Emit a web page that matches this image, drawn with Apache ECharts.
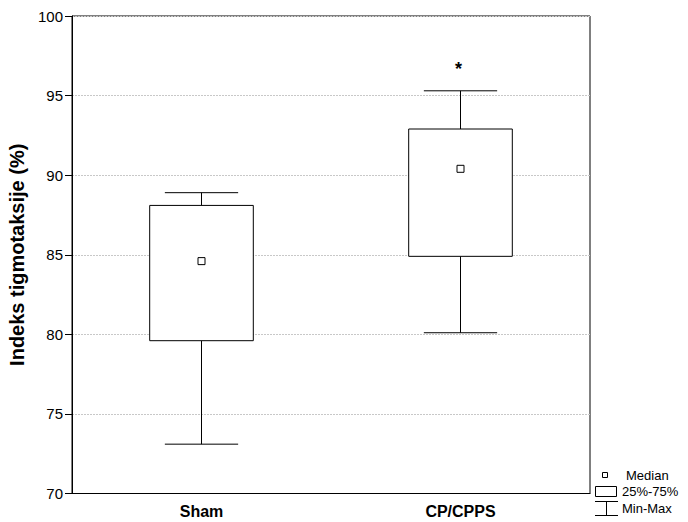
<!DOCTYPE html>
<html>
<head>
<meta charset="utf-8">
<script src="https://cdn.jsdelivr.net/npm/echarts@6/dist/echarts.min.js"></script>
<style>html,body{margin:0;padding:0;background:#fff;}#c{width:688px;height:522px;}</style>
</head>
<body>
<div id="c"></div>
<script>
const categories = ['Sham', 'CP/CPPS'];
const minValues = [73.1, 80.1];
const q1Values = [79.6, 84.9];
const medianValues = [84.6, 90.4];
const q3Values = [88.1, 92.9];
const maxValues = [88.9, 95.3];
const markers = ['', '*'];
const markerValues = [null, 96.9];
const yTicks = [70, 75, 80, 85, 90, 95, 100];
const legendLabels = ['Median', '25%-75%', 'Min-Max'];

const chart = echarts.init(document.getElementById('c'), null, {renderer: 'svg'});
const font = 'Liberation Sans, Arial, sans-serif';

const boxData = categories.map((c, i) => [i, minValues[i], q1Values[i], medianValues[i], q3Values[i], maxValues[i]]);
const markerData = categories.map((c, i) => markerValues[i] == null ? null : [i, markerValues[i], markers[i]]).filter(d => d);

function renderBox(params, api) {
  const x = api.value(0);
  const pMin = api.coord([x, api.value(1)]);
  const pQ1 = api.coord([x, api.value(2)]);
  const pMed = api.coord([x, api.value(3)]);
  const pQ3 = api.coord([x, api.value(4)]);
  const pMax = api.coord([x, api.value(5)]);
  const band = api.size([1, 0])[0];
  const hw = band * 0.2;
  const cw = band * 0.1415;
  const cx = pMin[0];
  const st = {stroke: '#000', lineWidth: 1, fill: null};
  return {
    type: 'group',
    children: [
      {type: 'line', shape: {x1: cx, y1: pMin[1], x2: cx, y2: pQ1[1]}, style: st},
      {type: 'line', shape: {x1: cx, y1: pQ3[1], x2: cx, y2: pMax[1]}, style: st},
      {type: 'line', shape: {x1: cx - cw, y1: pMin[1], x2: cx + cw, y2: pMin[1]}, style: st},
      {type: 'line', shape: {x1: cx - cw, y1: pMax[1], x2: cx + cw, y2: pMax[1]}, style: st},
      {type: 'rect', shape: {x: cx - hw, y: pQ3[1], width: 2 * hw, height: pQ1[1] - pQ3[1]}, style: {stroke: '#000', lineWidth: 1, fill: '#fff'}},
      {type: 'rect', shape: {x: cx - 3.5, y: pMed[1] - 3.5, width: 7, height: 7}, style: {stroke: '#000', lineWidth: 1, fill: '#fff'}}
    ]
  };
}

function renderMarker(params, api) {
  const p = api.coord([api.value(0), api.value(1)]);
  return {
    type: 'text',
    x: p[0] - 2,
    y: p[1] + 4,
    style: {text: markerData[params.dataIndex][2], fill: '#000', font: 'bold 18px ' + font, align: 'center', verticalAlign: 'middle'}
  };
}

const option = {
  animation: false,
  backgroundColor: '#fff',
  grid: {left: 72, right: 98, top: 16, bottom: 28.5, show: true, borderColor: '#000', borderWidth: 1, backgroundColor: 'transparent', outerBoundsMode: 'none', containLabel: false},
  xAxis: {
    type: 'category',
    data: categories,
    axisLine: {lineStyle: {color: '#000', width: 1}},
    axisTick: {inside: true, length: 4, alignWithLabel: true, lineStyle: {color: '#000'}},
    axisLabel: {color: '#000', fontFamily: font, fontSize: 16, fontWeight: 'bold', margin: 10},
    splitLine: {show: false}
  },
  yAxis: {
    type: 'value',
    min: yTicks[0],
    max: yTicks[yTicks.length - 1],
    interval: yTicks[1] - yTicks[0],
    name: 'Indeks tigmotaksije (%)',
    nameLocation: 'middle',
    nameGap: 40,
    nameTextStyle: {color: '#000', fontFamily: font, fontSize: 20, fontWeight: 'bold'},
    axisLine: {show: true, lineStyle: {color: '#000', width: 1}},
    axisTick: {show: true, inside: false, length: 7, lineStyle: {color: '#000'}},
    axisLabel: {color: '#000', fontFamily: font, fontSize: 15, margin: 9},
    splitLine: {show: true, lineStyle: {color: '#c8c8c8', type: [2, 1], width: 1}}
  },
  series: [
    {type: 'custom', renderItem: renderBox, data: boxData, encode: {x: 0, y: [1, 2, 3, 4, 5]}, z: 5},
    {type: 'custom', renderItem: renderMarker, data: markerData, encode: {x: 0, y: 1}, z: 6}
  ],
  graphic: [
    {type: 'rect', shape: {x: 602.5, y: 472.5, width: 5, height: 5}, style: {stroke: '#000', lineWidth: 1, fill: '#fff'}},
    {type: 'text', x: 626, y: 475, style: {text: legendLabels[0], fill: '#000', font: '13px ' + font, verticalAlign: 'middle'}},
    {type: 'rect', shape: {x: 595.5, y: 486.5, width: 21, height: 10}, style: {stroke: '#000', lineWidth: 1, fill: '#fff'}},
    {type: 'text', x: 622, y: 491.5, style: {text: legendLabels[1], fill: '#000', font: '13px ' + font, verticalAlign: 'middle'}},
    {type: 'line', shape: {x1: 595, y1: 501.5, x2: 618, y2: 501.5}, style: {stroke: '#000', lineWidth: 1}},
    {type: 'line', shape: {x1: 606.5, y1: 501.5, x2: 606.5, y2: 515.5}, style: {stroke: '#000', lineWidth: 1}},
    {type: 'line', shape: {x1: 595, y1: 515.5, x2: 618, y2: 515.5}, style: {stroke: '#000', lineWidth: 1}},
    {type: 'text', x: 622, y: 508, style: {text: legendLabels[2], fill: '#000', font: '13px ' + font, verticalAlign: 'middle'}}
  ]
};
chart.setOption(option);
</script>
</body>
</html>
